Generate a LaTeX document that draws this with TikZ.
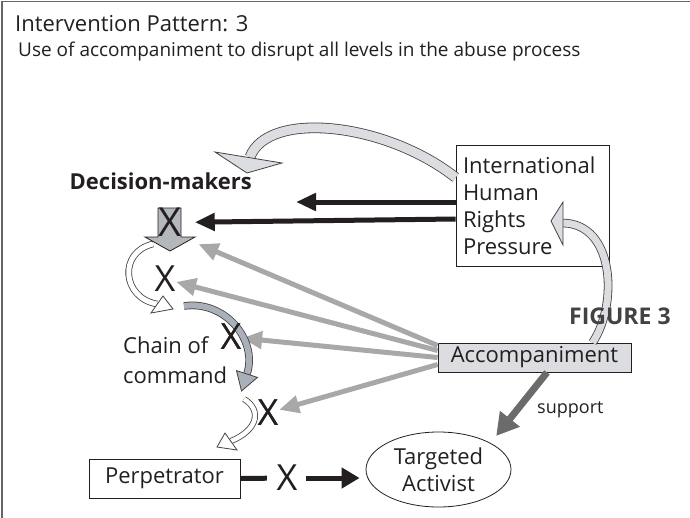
\documentclass[tikz,border=0pt]{standalone}
\usepackage{fontspec}
\setmainfont{Open Sans}
\usetikzlibrary{arrows.meta,shapes.geometric}

\definecolor{ink}{HTML}{231F20}
\definecolor{lgray}{HTML}{DCDDE0}
\definecolor{bgray}{HTML}{B4B8BD}
\definecolor{cgray}{HTML}{A9B0B8}
\definecolor{agray}{HTML}{A8A8A8}
\definecolor{sgray}{HTML}{6B6B6B}

\begin{document}
\begin{tikzpicture}[x=1pt, y=-1pt,
    every node/.style={text=ink, inner sep=0pt},
    txt/.style={font=\fontsize{22}{27}\selectfont},
    box/.style={draw=ink, line width=0.8pt, txt},
    xm/.style={font=\fontsize{36}{36}\selectfont, inner sep=0.5pt},
    barr/.style={draw=ink, line width=5pt, -{Triangle[length=20pt,width=17pt]}},
    garr/.style={draw=agray, line width=5pt, -{Triangle[length=20pt,width=17pt]}},
    band/.style={draw=ink!85, line width=0.8pt},
    head/.style={draw=ink!85, line width=0.8pt, line join=miter}]
    \useasboundingbox (0,0) rectangle (690,517);
    \draw[black!60, line width=1.5pt] (2,1.5) rectangle (720,540);

    \node[anchor=base west, font=\fontsize{22}{26}\selectfont] (ttl) at (15,31) {Intervention Pattern: 3};
    \node[anchor=base west, font=\fontsize{19}{22}\selectfont] (sub) at (18,56) {Use of accompaniment to disrupt all levels in the abuse process};

    \coordinate (h1) at (250,157);
    \coordinate (h2) at (563,223);
    \coordinate (h3a) at (153,244);
    \coordinate (h3) at (157,304);
    \coordinate (h4a) at (184,306);
    \coordinate (h4) at (247,374);
    \coordinate (h5a) at (244,399);
    \coordinate (h5) at (231,441);
    \coordinate (dmr) at (296,202);

    % chain of command, first link under the block arrow
    \draw[band, double=white, double distance=5pt] (h3a) .. controls (118,252) and (122,298) .. (h3);
    \filldraw[head, fill=white, shift={(h3)}] (-6,9) -- (16,5) -- (6,-8) -- cycle;
    \filldraw[draw=ink, line width=0.8pt, fill=bgray] (158,208) -- (181,208) -- (181,237) -- (195,237)
        -- (170,251) -- (145,237) -- (158,237) -- cycle;

    \node[box, fill=white, minimum width=153pt, minimum height=121pt, text width=139pt,
        inner xsep=7pt, align=left] (ihrp) at (532.5,205.5) {International\\Human\\Rights\\Pressure};
    \node[box, fill=lgray, minimum width=193pt, minimum height=29pt] (acc) at (534.5,357.5) {Accompaniment};
    \node[box, ellipse, minimum width=145pt, minimum height=75pt, align=center] (act) at (438.5,469.5) {Targeted\\Activist};
    \node[box, minimum width=151pt, minimum height=39pt] (perp) at (164.5,478.5) {Perpetrator};
    \node[anchor=base east, font=\fontsize{22}{26}\selectfont\bfseries] (dm) at (252,189) {Decision-makers};
    \node[anchor=base west, font=\fontsize{18}{20}\selectfont] (sup) at (537,413) {support};
    \node[anchor=north west, align=left, font=\fontsize{22}{30}\selectfont] (chain) at (123,336.3) {Chain of\\command};

    \node[xm, font=\fontsize{40}{40}\selectfont] (x1) at (170.5,222.5) {X};
    \node[xm] (x2) at (165,279) {X};
    \node[xm] (x3) at (231,337) {X};
    \node[xm] (x4) at (268,413) {X};
    \node[xm] (x5) at (287,478) {X};

    % pressure on decision-makers
    \draw[band, double=lgray, double distance=9pt] ([yshift=28pt]ihrp.west) .. controls (385,122) and (268,110) .. (h1);
    \filldraw[head, fill=lgray, shift={(h1)}] (-35,-5) -- (-3,16) -- (32,6) -- cycle;
    \draw[barr] ([yshift=3.5pt]ihrp.west) -- (dmr);
    \draw[barr, shorten >=12pt] ([yshift=-13.5pt]ihrp.west) -- (x1);

    % accompaniment
    \draw[band, double=lgray, double distance=7pt] ([xshift=58pt]acc.north) .. controls (618,305) and (615,224) .. (h2);
    \filldraw[head, fill=lgray, shift={(h2)}] (0,-21) -- (-12,-2) -- (0,22) -- cycle;
    \node[anchor=base west, font=\fontsize{23}{26}\selectfont\bfseries, text=ink!85] (fig) at (569,324) {FIGURE 3};
    \draw[garr, shorten >=17pt] ([yshift=12pt]acc.west) -- (x1.south east);
    \draw[garr] ([yshift=7pt]acc.west) -- (x2);
    \draw[garr] (acc.west) -- (x3);
    \draw[garr] ([yshift=-7pt]acc.west) -- (x4);
    \draw[draw=sgray, line width=7pt, -{Triangle[length=22pt,width=24pt]}, shorten >=9pt] ([xshift=12.5pt]acc.south) -- (act.27);

    % chain of command
    \draw[band, double=cgray, double distance=6pt] (h4a) .. controls (225,300) and (258,340) .. (h4);
    \filldraw[head, fill=cgray, shift={(h4)}] (-10.5,-3.4) -- (-5.5,17) -- (10.5,3.4) -- cycle;
    \draw[band, double=white, double distance=4.5pt] (h5a) .. controls (262,410) and (258,430) .. (h5);
    \filldraw[head, fill=white, shift={(h5)}] (-6,-8) -- (-14,6) -- (6,9) -- cycle;
    \node[xm] at (x3) {X};
    \node[xm] at (x4) {X};

    % perpetrator
    \draw[draw=ink, line width=5pt, shorten >=9pt] (perp.east) -- (x5);
    \draw[barr, -{Triangle[length=18pt,width=20pt]}, shorten <=8pt, shorten >=6pt] (x5) -- (x5 -| act.west);
  \end{tikzpicture}
\end{document}
